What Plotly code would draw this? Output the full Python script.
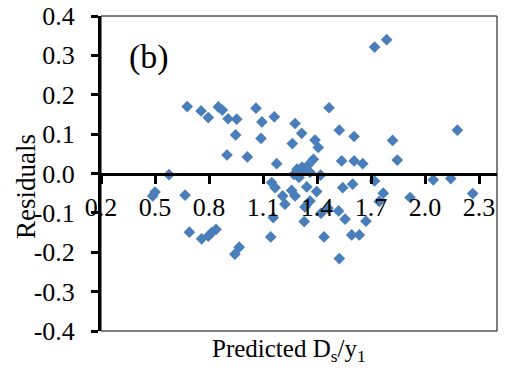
import plotly.graph_objects as go

predicted = [0.679, 0.756, 0.796, 0.852, 0.874, 0.906, 0.954, 0.948, 0.900, 1.013,
             0.578, 1.061, 1.094, 1.163, 1.089, 1.176, 1.278, 1.315, 1.263, 1.389,
             1.407, 1.380, 1.467, 1.524, 1.537, 1.720, 1.787, 1.606, 1.606, 1.654,
             1.820, 1.846, 2.180, 1.720, 2.046, 2.143, 1.543, 1.598, 1.768, 1.746,
             1.917, 2.265, 1.556, 1.672, 1.593, 1.635, 1.520, 1.524,
             1.272, 1.289, 1.306, 1.317, 1.333, 1.350, 1.361, 1.300, 1.420,
             1.148, 1.167, 1.209, 1.259, 1.278, 1.343, 1.398, 1.222, 1.333, 1.361,
             1.422, 1.461, 1.157, 1.329, 1.143, 1.439, 0.968,
             0.500, 0.487, 0.667, 0.691, 0.759, 0.796, 0.815, 0.839, 0.944]
residuals = [0.170, 0.159, 0.142, 0.169, 0.161, 0.139, 0.138, 0.098, 0.047, 0.042,
             -0.003, 0.166, 0.131, 0.144, 0.089, 0.025, 0.127, 0.102, 0.076, 0.085,
             0.066, 0.036, 0.167, 0.110, 0.032, 0.321, 0.340, 0.094, 0.032, 0.025,
             0.084, 0.034, 0.110, -0.019, -0.016, -0.013, -0.036, -0.027, -0.050, -0.071,
             -0.061, -0.051, -0.116, -0.121, -0.156, -0.156, -0.095, -0.216,
             -0.002, 0.011, 0.003, 0.016, 0.008, 0.021, 0.003, -0.010, -0.004,
             -0.023, -0.036, -0.057, -0.043, -0.057, -0.034, -0.046, -0.078, -0.085, -0.070,
             -0.101, -0.088, -0.112, -0.122, -0.161, -0.161, -0.187,
             -0.047, -0.057, -0.055, -0.149, -0.166, -0.159, -0.150, -0.142, -0.205]

x_ticks = [0.2, 0.5, 0.8, 1.1, 1.4, 1.7, 2.0, 2.3]
x_ticktext = ["0.2", "0.5", "0.8", "1.1", "1.4", "1.7", "2.0", "2.3"]
y_ticks = [-0.4, -0.3, -0.2, -0.1, 0.0, 0.1, 0.2, 0.3, 0.4]
y_ticktext = ["-0.4", "-0.3", "-0.2", "-0.1", "0.0", "0.1", "0.2", "0.3", "0.4"]

FONT = "Liberation Serif"

fig = go.Figure()
fig.add_trace(go.Scatter(
    x=predicted, y=residuals, mode="markers",
    marker=dict(symbol="diamond", size=9, color="#4a7ebb", line=dict(width=0)),
    showlegend=False, hoverinfo="skip",
))

fig.update_layout(
    width=516, height=378,
    margin=dict(l=101, r=19, t=16, b=47, autoexpand=False),
    paper_bgcolor="white", plot_bgcolor="white",
    font=dict(family=FONT, color="black"),
    xaxis=dict(
        range=[0.2, 2.4], tickvals=x_ticks, ticktext=x_ticktext,
        anchor="free", position=0.5, automargin=False,
        showline=True, linewidth=3, linecolor="black",
        ticks="outside", ticklen=8, tickwidth=3, tickcolor="black",
        showgrid=False, zeroline=False,
        tickfont=dict(family=FONT, size=26, color="black"),
        ticklabelstandoff=1,
    ),
    yaxis=dict(
        range=[-0.4, 0.4], tickvals=y_ticks, ticktext=y_ticktext, automargin=False,
        showline=True, linewidth=3, linecolor="black",
        ticks="outside", ticklen=7, tickwidth=3, tickcolor="black",
        showgrid=False, zeroline=False,
        tickfont=dict(family=FONT, size=26, color="black"),
        ticklabelstandoff=11,
    ),
    shapes=[dict(type="rect", xref="paper", yref="paper", x0=0, x1=1, y0=0, y1=1,
                 line=dict(color="black", width=1), layer="below")],
    annotations=[
        dict(text="(b)", xref="paper", yref="paper", x=(149 - 101) / 396, y=(331 - 57) / 315,
             xanchor="center", yanchor="middle", showarrow=False,
             font=dict(family=FONT, size=34, color="black")),
        dict(text="Predicted D<sub>s</sub>/y<sub>1</sub>", xref="paper", yref="paper",
             x=(289 - 101) / 396, y=-(350 - 331) / 315,
             xanchor="center", yanchor="middle", showarrow=False,
             font=dict(family=FONT, size=25, color="black")),
        dict(text="Residuals", xref="paper", yref="paper",
             x=-(101 - 26) / 396, y=(331 - 187) / 315, textangle=-90,
             xanchor="center", yanchor="middle", showarrow=False,
             font=dict(family=FONT, size=27, color="black")),
    ],
)

fig.write_html("out.html")
